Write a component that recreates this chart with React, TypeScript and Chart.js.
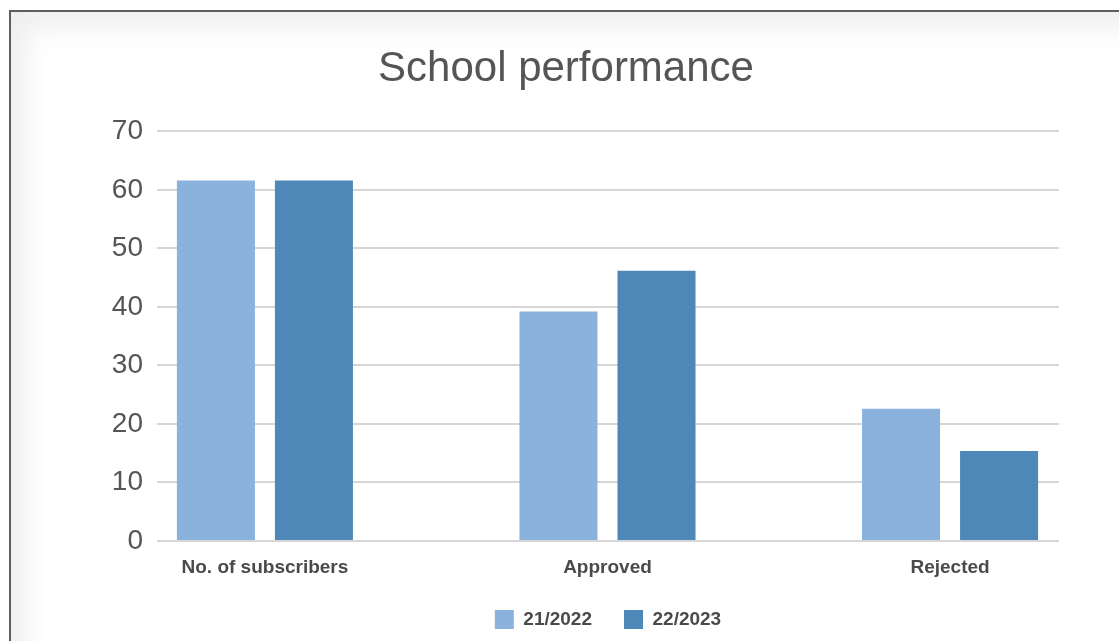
import React, { useEffect, useRef } from "react";
import { Chart, registerables } from "chart.js";

Chart.register(...registerables);

const categories = ["No. of subscribers", "Approved", "Rejected"];
const seriesLabels = ["21/2022", "22/2023"];
const values2122 = [61.6, 39.2, 22.6];
const values2223 = [61.6, 46.2, 15.4];
const seriesColors = ["#8ab2dc", "#4d88b8"];
const yMin = 0;
const yMax = 70;
const yStep = 10;
const titleText = "School performance";

const FONT = "'Liberation Sans', Arial, Helvetica, sans-serif";

export default function App() {
  const canvasRef = useRef<HTMLCanvasElement | null>(null);

  useEffect(() => {
    const canvas = canvasRef.current;
    if (!canvas) return;
    const series = [values2122, values2223];
    const chart = new Chart(canvas, {
      type: "bar",
      data: {
        datasets: series.map((vals, si) => ({
          label: seriesLabels[si],
          data: vals.map((y, i) => ({ x: i, y })),
          backgroundColor: seriesColors[si],
          borderWidth: 0,
          barPercentage: 0.796,
          categoryPercentage: 0.5723,
        })),
      },
      options: {
        animation: false,
        responsive: false,
        maintainAspectRatio: false,
        devicePixelRatio: 1,
        layout: { padding: { left: 73, right: 60, top: 0, bottom: 2 } },
        plugins: {
          tooltip: { enabled: false },
          title: {
            display: true,
            text: titleText,
            color: "#555555",
            font: { family: FONT, size: 42, weight: "normal" },
            padding: { top: 44, bottom: 37 },
          },
          legend: {
            display: true,
            position: "bottom",
            fullSize: false,
            labels: {
              boxWidth: 19,
              boxHeight: 19,
              padding: 32,
              color: "#4a4a4a",
              font: { family: FONT, size: 19, weight: "bold" },
            },
          },
        },
        scales: {
          x: {
            type: "linear",
            offset: false,
            min: -0.315,
            max: 2.318,
            afterBuildTicks: (scale: any) => {
              scale.ticks = categories.map((_, i) => ({ value: i }));
            },
            afterFit: (scale: any) => {
              scale.height = 37;
            },
            grid: { display: false, drawTicks: false },
            border: { display: false },
            ticks: {
              padding: 15,
              autoSkip: false,
              maxRotation: 0,
              color: "#4a4a4a",
              font: { family: FONT, size: 19, weight: "bold" },
              callback: (value: any) => categories[Number(value)] ?? "",
            },
          },
          y: {
            type: "linear",
            min: yMin,
            max: yMax,
            afterFit: (scale: any) => {
              scale.width = 84;
            },
            grid: { color: "#d6d6d6", lineWidth: 2, drawTicks: false },
            border: { display: false },
            ticks: {
              stepSize: yStep,
              padding: 14,
              color: "#555555",
              font: { family: FONT, size: 28 },
            },
          },
        },
      } as any,
    });
    return () => chart.destroy();
  }, []);

  return (
    <div style={{ position: "fixed", inset: 0, overflow: "hidden", background: "#ffffff" }}>
      <div
        style={{
          position: "absolute",
          left: 9,
          top: 10,
          width: 1300,
          height: 800,
          border: "2px solid #5b5f5f",
          boxShadow: "inset 0 0 26px 16px #efefef",
          background: "#ffffff",
        }}
      />
      <div style={{ position: "absolute", left: 0, top: 0, width: 1119, height: 641 }}>
        <canvas ref={canvasRef} width={1119} height={641} style={{ display: "block" }} />
      </div>
    </div>
  );
}
